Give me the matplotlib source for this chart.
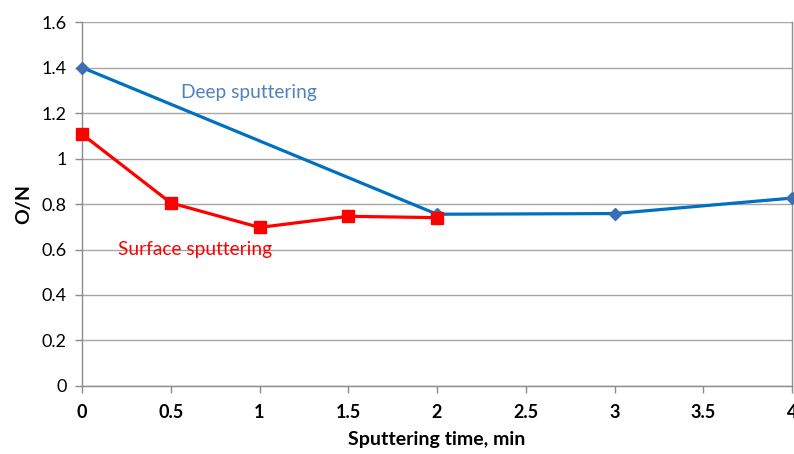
import matplotlib
matplotlib.use("Agg")
import matplotlib.pyplot as plt

deep_x = [0, 2, 3, 4]
deep_y = [1.40, 0.755, 0.758, 0.826]
surf_x = [0, 0.5, 1, 1.5, 2]
surf_y = [1.107, 0.805, 0.697, 0.746, 0.740]
x_ticks = [0, 0.5, 1, 1.5, 2, 2.5, 3, 3.5, 4]
x_tick_labels = ["0", "0.5", "1", "1.5", "2", "2.5", "3", "3.5", "4"]
y_ticks = [0, 0.2, 0.4, 0.6, 0.8, 1.0, 1.2, 1.4, 1.6]
y_tick_labels = ["0", "0.2", "0.4", "0.6", "0.8", "1", "1.2", "1.4", "1.6"]

plt.rcParams['font.family'] = ['Lato', 'DejaVu Sans']

fig = plt.figure(figsize=(7.94, 4.54), dpi=100)
ax = fig.add_axes([0.1033, 0.1498, 0.8942, 0.8017])

ax.set_xlim(0, 4)
ax.set_ylim(0, 1.6)
ax.set_yticks(y_ticks)
ax.set_yticklabels(y_tick_labels, fontsize=13)
ax.set_xticks(x_ticks)
ax.set_xticklabels(x_tick_labels, fontsize=13, fontweight='bold')
ax.grid(axis='y', color='#A6A6A6', linewidth=1.0)
ax.set_axisbelow(True)
for s in ['top']:
    ax.spines[s].set_visible(False)
for s in ['left', 'bottom', 'right']:
    ax.spines[s].set_color('#8C8C8C')
    ax.spines[s].set_linewidth(1.0)
ax.tick_params(axis='both', color='#8C8C8C', length=5, width=1.0)
ax.tick_params(axis='x', pad=8)
ax.tick_params(axis='y', pad=6)

ax.plot(deep_x, deep_y, color='#0070C0', linewidth=2.3, marker='D',
        markersize=6, markerfacecolor='#3C6EB4', markeredgecolor='#3C6EB4',
        clip_on=False, zorder=3)
ax.plot(surf_x, surf_y, color='#FF0000', linewidth=2.3, marker='s',
        markersize=8, markerfacecolor='#FF0000', markeredgecolor='#FF0000',
        clip_on=False, zorder=4)

ax.text(0.558, 1.292, "Deep sputtering", color='#4F81BD', fontsize=13.8,
        va='center', ha='left')
ax.text(0.203, 0.598, "Surface sputtering", color='#FF0000', fontsize=13.8,
        va='center', ha='left')

ax.set_xlabel("Sputtering time, min", fontsize=14, fontweight='bold', labelpad=7)
ax.set_ylabel("O/N", fontsize=14, fontweight='bold', labelpad=7)

fig.savefig("out.png", dpi=100)
